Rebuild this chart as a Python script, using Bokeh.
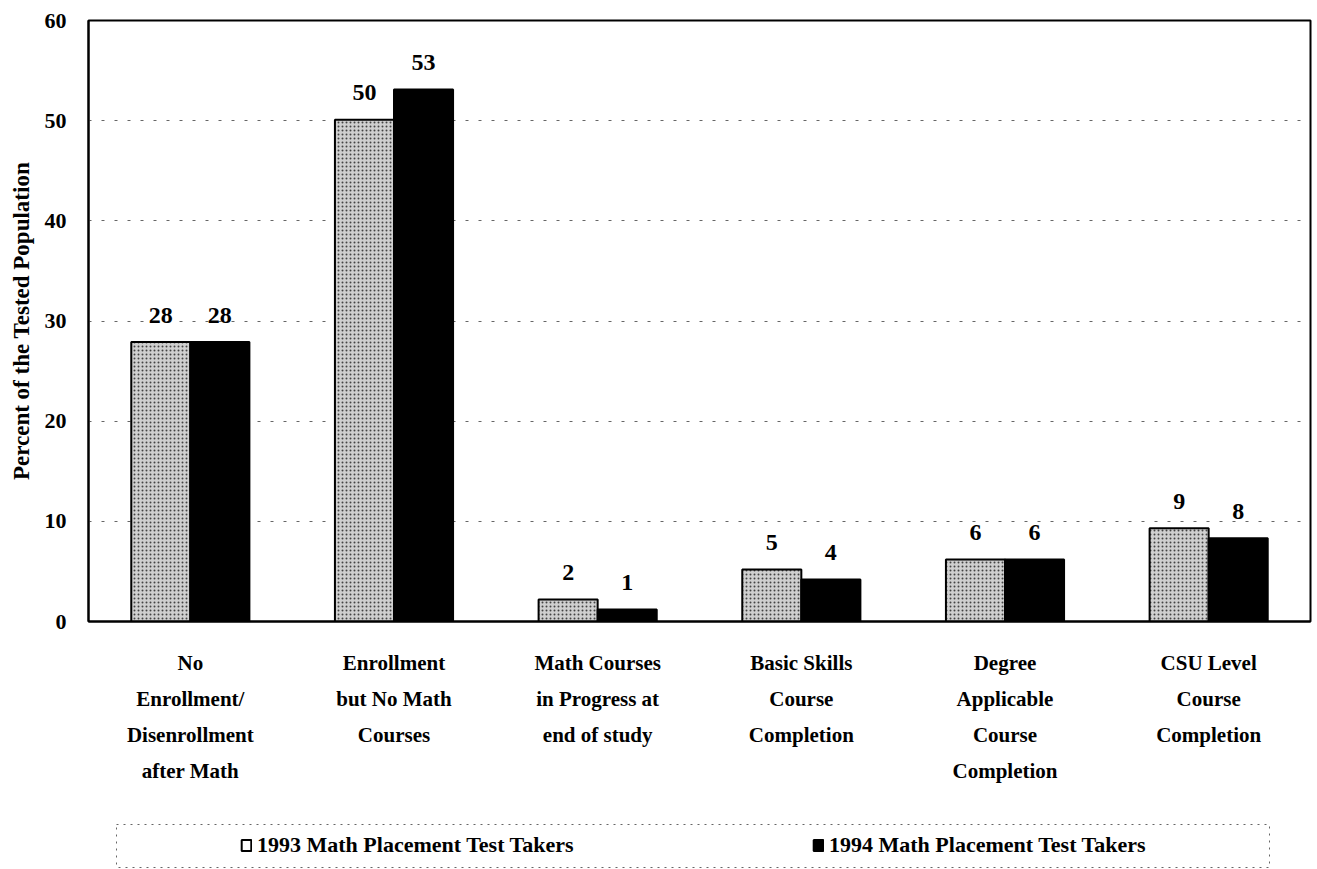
from bokeh.plotting import figure
from bokeh.layouts import column, row
from bokeh.models import (FactorRange, Range1d, ColumnDataSource, Legend, LegendItem,
                          FixedTicker, Spacer)
from bokeh.transform import dodge
from bokeh.embed import file_html
from bokeh.resources import INLINE
from bokeh.core.properties import value

categories = [
    "No\nEnrollment/\nDisenrollment\nafter Math",
    "Enrollment\nbut No Math\nCourses",
    "Math Courses\nin Progress at\nend of study",
    "Basic Skills\nCourse\nCompletion",
    "Degree\nApplicable\nCourse\nCompletion",
    "CSU Level\nCourse\nCompletion",
]
pct_1993 = [27.9, 50.1, 2.2, 5.2, 6.2, 9.3]
pct_1994 = [27.9, 53.1, 1.2, 4.2, 6.2, 8.3]
series_names = ["1993 Math Placement Test Takers", "1994 Math Placement Test Takers"]
y_ticks = [0, 10, 20, 30, 40, 50, 60]

FONT = "Liberation Serif"

src = ColumnDataSource(dict(
    cat=categories,
    v93=pct_1993,
    v94=pct_1994,
    l93=[str(round(v)) for v in pct_1993],
    l94=[str(round(v)) for v in pct_1994],
))

style93 = dict(fill_color="#cfcfcf", line_color="black", line_width=2,
               hatch_pattern=".", hatch_color="#444444", hatch_scale=4, hatch_weight=1.2)
style94 = dict(fill_color="black", line_color="black", line_width=2)

xr = FactorRange(*categories, range_padding=0)
p = figure(width=1312, height=824, x_range=xr,
           y_range=Range1d(0, 60), output_backend="svg", toolbar_location=None,
           min_border_left=88, min_border_right=2, min_border_top=20, min_border_bottom=203)

bw = 0.29
p.vbar(x=dodge("cat", -bw / 2, range=xr), top="v93", width=bw, source=src, **style93)
p.vbar(x=dodge("cat", bw / 2, range=xr), top="v94", width=bw, source=src, **style94)

p.text(x=dodge("cat", -bw / 2, range=xr), y="v93", text="l93", source=src,
       text_font=value(FONT), text_font_style="bold", text_font_size="24px", text_color="black",
       text_align="center", text_baseline="alphabetic", y_offset=-27)
p.text(x=dodge("cat", bw / 2, range=xr), y="v94", text="l94", source=src,
       text_font=value(FONT), text_font_style="bold", text_font_size="24px", text_color="black",
       text_align="center", text_baseline="alphabetic", y_offset=-27)

p.outline_line_color = "black"
p.outline_line_width = 2
p.xgrid.grid_line_color = None
p.ygrid.grid_line_color = "#666666"
p.ygrid.grid_line_dash = "3 10"
p.ygrid.grid_line_width = 1

p.yaxis.ticker = FixedTicker(ticks=y_ticks)
p.yaxis.axis_label = "Percent of the Tested Population"
p.yaxis.axis_label_text_font = FONT
p.yaxis.axis_label_text_font_style = "bold"
p.yaxis.axis_label_text_font_size = "23px"
p.yaxis.axis_label_text_color = "black"
p.yaxis.axis_label_standoff = 8
p.yaxis.major_label_text_font = FONT
p.yaxis.major_label_text_font_style = "bold"
p.yaxis.major_label_text_font_size = "22px"
p.yaxis.major_label_text_color = "black"
p.yaxis.major_label_standoff = 16
p.yaxis.major_tick_line_color = None
p.yaxis.minor_tick_line_color = None
p.yaxis.axis_line_color = "black"
p.yaxis.axis_line_width = 2

p.xaxis.major_label_text_font = FONT
p.xaxis.major_label_text_font_style = "bold"
p.xaxis.major_label_text_font_size = "21px"
p.xaxis.major_label_text_color = "black"
p.xaxis.major_label_text_line_height = 1.5
p.xaxis.major_label_standoff = 23
p.xaxis.major_tick_line_color = None
p.xaxis.axis_line_color = "black"
p.xaxis.axis_line_width = 2

# legend box below the chart (legend proxies are hidden renderers)
p2 = figure(width=1154, height=44, x_range=xr, y_range=Range1d(0, 60),
            output_backend="svg", toolbar_location=None,
            min_border_left=0, min_border_right=0, min_border_top=0, min_border_bottom=0)
p2.axis.visible = False
p2.grid.grid_line_color = None
p2.outline_line_color = "#666666"
p2.outline_line_dash = "2 5"
p2.outline_line_width = 1
k93 = p2.vbar(x=dodge("cat", -bw / 2, range=xr), top="v93", width=bw, source=src,
              fill_color="white", line_color="black", line_width=2, visible=False)
k94 = p2.vbar(x=dodge("cat", bw / 2, range=xr), top="v94", width=bw, source=src,
              visible=False, **style94)

legend = Legend(items=[LegendItem(label=series_names[0], renderers=[k93]),
                       LegendItem(label=series_names[1], renderers=[k94])],
                orientation="horizontal", location=(124, 10),
                label_text_font=FONT, label_text_font_style="bold", label_text_font_size="22px",
                label_text_color="black",
                glyph_width=12, glyph_height=14, label_standoff=5, label_width=470, spacing=85,
                label_height=20, padding=0, margin=0,
                inactive_fill_alpha=0,
                border_line_color=None, background_fill_alpha=0)
p2.add_layout(legend, "center")

layout = column(p, row(Spacer(width=116, height=44), p2, spacing=0), spacing=0)
open("out.html", "w").write(file_html(layout, INLINE))
